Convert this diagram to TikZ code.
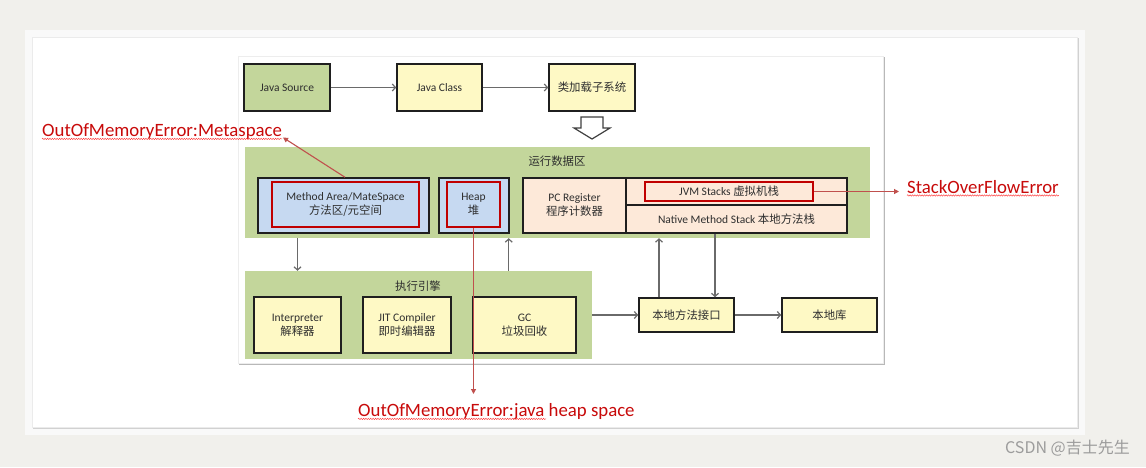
\documentclass[tikz,border=0pt]{standalone}
\usepackage{fontspec}
\setmainfont{Carlito}
\newfontfamily\cjk{Noto Sans CJK SC}
\usetikzlibrary{arrows.meta,decorations.pathmorphing}
\definecolor{bgc}{HTML}{F1F0EC}
\definecolor{bandc}{HTML}{F9F9F9}
\definecolor{greenc}{HTML}{C3D69B}
\definecolor{yellowc}{HTML}{FEF9C5}
\definecolor{bluec}{HTML}{C6D9F1}
\definecolor{peachc}{HTML}{FDE9D9}
\definecolor{redc}{HTML}{C00000}
\definecolor{errc}{HTML}{C80A0A}
\definecolor{errline}{HTML}{C0504D}
\definecolor{txtc}{HTML}{2E2E2E}
\definecolor{arrc}{HTML}{6A6A6A}
\definecolor{wmc}{HTML}{9C9C9C}
\newcommand\boxfont{\fontsize{11.5}{14}\selectfont}
\newcommand\zhs[1]{{\cjk\fontsize{11.4}{14}\selectfont #1}}
\tikzset{
  box/.style={draw=black!88, line width=1.5pt, inner sep=0pt, align=center, text=txtc, font=\boxfont},
  redbox/.style={draw=redc, line width=2.7pt, inner sep=0pt, align=center, text=txtc, font=\boxfont},
  area/.style={fill=greenc, draw=none, inner sep=0pt},
  lbl/.style={inner sep=0pt, text=txtc, font=\boxfont},
  arr/.style={draw=arrc, line width=1.2pt, -{Straight Barb[length=3.2pt,width=7pt]}},
  errarr/.style={draw=errline, line width=1.1pt, -{Triangle[length=5pt,width=5pt]}},
  errtext/.style={inner sep=0pt, text=errc, font=\fontsize{18.8}{20}\selectfont},
  squig/.style={draw=red!75, line width=0.45pt, decorate, decoration={snake, amplitude=0.7pt, segment length=2.4pt}},
  hollow/.style={draw=black!75, fill=white, line width=1.2pt, line join=miter}
}
\begin{document}
\begin{tikzpicture}[x=1pt,y=-1pt]
\useasboundingbox (0,0) rectangle (1146,467);
% page and card
\fill[bgc] (0,0) rectangle (1146,467);
\fill[bandc] (25,30) rectangle (1085,435);
\fill[black!18] (33,38) rectangle (1079,429);
\fill[white] (32,37) rectangle (1077,427);
\draw[black!8, line width=0.6pt] (32,37) rectangle (1077,427);
% inner panel
\fill[black!28] (239,57) rectangle (885,365);
\fill[white] (238,56) rectangle (883,363);
\draw[black!7, line width=0.6pt] (238,56) rectangle (883,363);

% top row
\node[box, fill=greenc, minimum width=86pt, minimum height=47pt] (js) at (287,87.5) {Java Source};
\node[box, fill=yellowc, minimum width=85pt, minimum height=47pt] (jc) at (439.5,87.5) {Java Class};
\node[box, fill=yellowc, minimum width=86pt, minimum height=47pt] (cl) at (592,87.5) {\zhs{类加载子系统}};
\draw[arr] (js.east) -- (jc.west);
\draw[arr] (jc.east) -- (cl.west);

% hollow arrow
\draw[hollow] (581,117) -- (603,117) -- (603,128) -- (610,128) -- (592,139) -- (574,128) -- (581,128) -- cycle;

% runtime data area
\node[area, minimum width=625pt, minimum height=91pt] (rda) at (557.5,192.5) {};
\node[lbl] (rdal) at (557,161) {\zhs{运行数据区}};
\node[box, fill=bluec, minimum width=171pt, minimum height=55pt] (maout) at (343.5,205.5) {};
\node[redbox, minimum width=147pt, minimum height=45pt] (mared) at (345.5,204.5) {Method Area/MateSpace\\\zhs{方法区/元空间}};
\node[box, fill=bluec, minimum width=70pt, minimum height=55pt] (heapout) at (474,205.5) {};
\node[redbox, minimum width=53pt, minimum height=45pt] (heapred) at (473.5,204.5) {Heap\\\zhs{堆}};
\node[box, fill=peachc, minimum width=103pt, minimum height=55pt] (pc) at (574.5,205.5) {PC Register\\\zhs{程序计数器}};
\node[box, fill=peachc, minimum width=221pt, minimum height=27pt] (jvm) at (736.5,191.5) {};
\node[box, fill=peachc, minimum width=221pt, minimum height=28pt] (nms) at (736.5,219) {Native Method Stack \zhs{本地方法栈}};
\node[redbox, minimum width=168pt, minimum height=19pt] (jvmred) at (729,191.5) {JVM Stacks \zhs{虚拟机栈}};

% execution engine
\node[area, minimum width=347pt, minimum height=88pt] (ee) at (418.5,315) {};
\node[lbl] (eel) at (418,286) {\zhs{执行引擎}};
\node[box, fill=yellowc, minimum width=87pt, minimum height=56pt] (interp) at (297.5,325) {Interpreter\\\zhs{解释器}};
\node[box, fill=yellowc, minimum width=88pt, minimum height=56pt] (jit) at (407,325) {JIT Compiler\\\zhs{即时编辑器}};
\node[box, fill=yellowc, minimum width=103pt, minimum height=56pt] (gc) at (524.5,325) {GC\\\zhs{垃圾回收}};

% native interface and library
\node[box, fill=yellowc, minimum width=95pt, minimum height=34pt] (nmi) at (686.5,315) {\zhs{本地方法接口}};
\node[box, fill=yellowc, minimum width=95pt, minimum height=34pt] (nl) at (829.5,315) {\zhs{本地库}};

% connectors
\draw[arr] (interp.north |- rda.south) -- (interp.north |- ee.north);
\draw[arr] ([xshift=-1pt]heapout.east |- ee.north) -- ([xshift=-1pt]heapout.east |- rda.south);
\draw[arr] (ee.east) -- (nmi.west);
\draw[arr] (nmi.east) -- (nl.west);
\draw[arr] ([xshift=-27.5pt]nmi.north) -- ([xshift=-27.5pt]nmi.north |- rda.south);
\draw[arr] ([xshift=28.5pt]nmi.north |- nms.south) -- ([xshift=28.5pt]nmi.north);

% error labels
\node[errtext, anchor=west] (oomm) at (42,132) {OutOfMemoryError:Metaspace};
\node[errtext, anchor=west] (oomh) at (358,412) {OutOfMemoryError:java heap space};
\node[errtext, anchor=west] (sof) at (907,187) {StackOverFlowError};
\coordinate (tipm) at (283,137.5);
\coordinate (tiph) at (473.5,394);
\coordinate (tips) at (899,191.5);
\draw[errarr] ([xshift=1.5pt]maout.north) -- (tipm);
\draw[errarr] (heapred.south) -- (tiph);
\draw[errarr] (jvmred.east) -- (tips);
\draw[squig] ([yshift=-2pt]oomm.base west) -- ([yshift=-2pt]oomm.base east);
\draw[squig] ([yshift=-2pt]oomh.base west) -- ([xshift=188pt,yshift=-2pt]oomh.base west);
\draw[squig] ([yshift=-2pt]sof.base west) -- ([yshift=-2pt]sof.base east);

% watermark
\node[inner sep=0pt, anchor=east, text=wmc, font=\cjk\fontsize{16}{18}\selectfont] (wm) at (1130,448) {CSDN @吉士先生};
\end{tikzpicture}
\end{document}
